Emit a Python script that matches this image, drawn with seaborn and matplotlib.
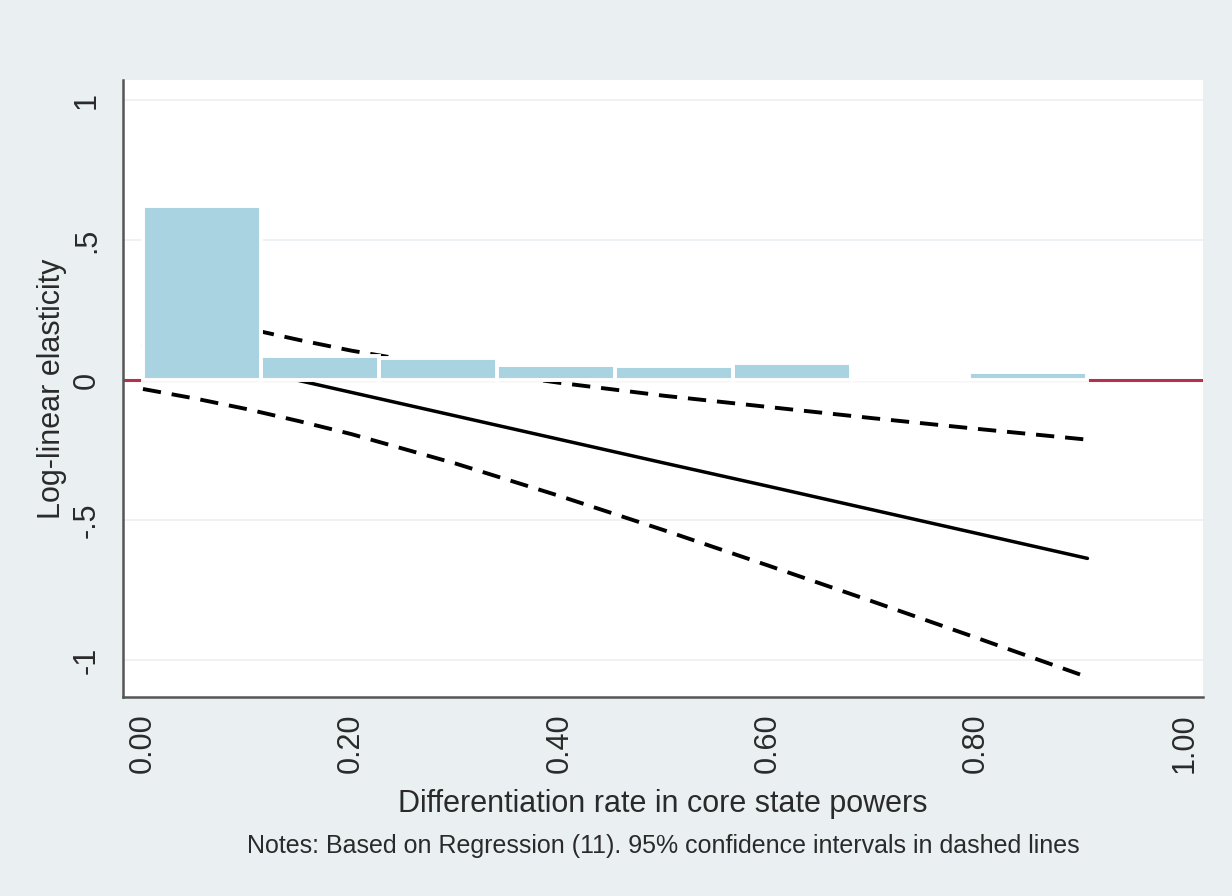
import matplotlib
matplotlib.use("Agg")
import matplotlib.pyplot as plt
import seaborn as sns

# Histogram of the differentiation rate: bin edges and bar heights
bin_edges = [0.0, 0.1134, 0.2268, 0.3401, 0.4535, 0.5669, 0.6803, 0.7936, 0.907]
bin_heights = [0.622, 0.084, 0.078, 0.055, 0.051, 0.061, 0.0, 0.030]

# Marginal effect (log-linear elasticity) with 95% confidence bounds
rate = [0.0, 0.05, 0.10, 0.15, 0.20, 0.30, 0.40, 0.50, 0.60, 0.70, 0.80, 0.907]
effect = [0.124, 0.082, 0.040, -0.002, -0.044, -0.128, -0.212, -0.296, -0.379, -0.463, -0.547, -0.637]
upper = [0.280, 0.230, 0.184, 0.143, 0.105, 0.042, -0.010, -0.056, -0.096, -0.136, -0.174, -0.213]
lower = [-0.032, -0.066, -0.104, -0.147, -0.193, -0.298, -0.414, -0.536, -0.662, -0.790, -0.920, -1.061]

xticks = [0.0, 0.2, 0.4, 0.6, 0.8, 1.0]
xtick_labels = ["0.00", "0.20", "0.40", "0.60", "0.80", "1.00"]
yticks = [-1.0, -0.5, 0.0, 0.5, 1.0]
ytick_labels = ["-1", "-.5", "0", ".5", "1"]

sns.set_theme(style="white")
plt.rcParams["font.family"] = ["Liberation Sans", "DejaVu Sans"]

BG = "#EAEFF2"
BAR = "#AAD3E1"
RED = "#B5304A"
INK = "#2a2a2a"
AXIS = "#555555"

fig = plt.figure(figsize=(12.32, 8.96), dpi=100, facecolor=BG)
ax = fig.add_axes([0.0998, 0.2221, 0.8767, 0.6886])
ax.set_facecolor("white")

# light horizontal grid at the labelled values
for yv in yticks:
    ax.axhline(yv, color="#EEF1F3", lw=1.3, zorder=0)

# zero reference line (covered by the bar outlines inside the data range)
ax.axhline(0, color=RED, lw=2.2, zorder=1)

# fitted effect and confidence bounds
dash = (0, (4.7, 2.8))
sns.lineplot(x=rate, y=effect, color="black", lw=2.5, ax=ax, zorder=2, errorbar=None)
sns.lineplot(x=rate, y=upper, color="black", lw=2.8, linestyle=dash, ax=ax, zorder=2, errorbar=None)
sns.lineplot(x=rate, y=lower, color="black", lw=2.8, linestyle=dash, ax=ax, zorder=2, errorbar=None)

# histogram bars drawn over the lines
centers = [(a + b) / 2 for a, b in zip(bin_edges[:-1], bin_edges[1:])]
sns.histplot(x=centers, weights=bin_heights, bins=bin_edges, stat="count",
             color=BAR, alpha=1.0, edgecolor="white", linewidth=2.8,
             ax=ax, zorder=3)

ax.set_xlim(-0.0192, 1.018)
ax.set_ylim(-1.132, 1.0714)

ax.set_xticks(xticks)
ax.set_xticklabels(xtick_labels, rotation=90, fontsize=22, color=INK)
ax.set_yticks(yticks)
ax.set_yticklabels(ytick_labels, rotation=90, fontsize=22, color=INK, va="center")

ax.tick_params(axis="both", which="major", direction="out", length=9,
               width=1.4, color=AXIS)
ax.tick_params(axis="y", pad=6)
ax.tick_params(axis="x", pad=3)

for side in ("top", "right"):
    ax.spines[side].set_visible(False)
for side in ("left", "bottom"):
    ax.spines[side].set_color(AXIS)
    ax.spines[side].set_linewidth(1.8)

ax.set_ylabel("Log-linear elasticity", fontsize=22, color=INK)
ax.yaxis.set_label_coords(-0.052, 0.5)
ax.set_xlabel("Differentiation rate in core state powers", fontsize=22, color=INK)
ax.xaxis.label.set_va("baseline")
ax.xaxis.set_label_coords(0.5, -0.1864)

fig.text(663 / 1232, 1 - 853 / 896,
         "Notes: Based on Regression (11). 95% confidence intervals in dashed lines",
         ha="center", va="baseline", fontsize=18, color=INK)

fig.savefig("out.png", dpi=100, facecolor=BG)
